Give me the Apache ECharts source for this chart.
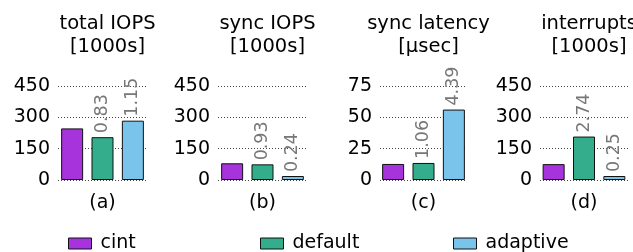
<!DOCTYPE html>
<html>
<head>
<meta charset="utf-8">
<script src="https://cdn.jsdelivr.net/npm/echarts@6/dist/echarts.min.js"></script>
<style>
    html, body { margin: 0; padding: 0; background: #fff; }
    #chart { width: 633px; height: 252px; }
</style>
</head>
<body>
<div id="chart"></div>
<script>
// panel data
const panelTitles = ["total IOPS\n[1000s]", "sync IOPS\n[1000s]", "sync latency\n[µsec]", "interrupts\n[1000s]"];
const panelLabels = ["(a)", "(b)", "(c)", "(d)"];
const yMax = [450, 450, 75, 450];
const yStep = [150, 150, 25, 150];

const seriesNames = ["cint", "default", "adaptive"];
const cintVals = [247, 80, 12.8, 76];
const defaultVals = [205, 75, 13.6, 208];
const adaptiveVals = [284, 19, 56.2, 19];
// ratios vs cint, printed above bars
const defaultRatio = ["0.83", "0.93", "1.06", "2.74"];
const adaptiveRatio = ["1.15", "0.24", "4.39", "0.25"];

const colors = ["#a633dc", "#33ad8c", "#7ac4ec"];
const font = "DejaVu Sans";

// grid geometry (left, width)
const gridPos = [[58, 89], [218, 89], [380, 87], [540, 88]];

let grids = [], xAxes = [], yAxes = [], titles = [], series = [];
const values = [cintVals, defaultVals, adaptiveVals];
const ratios = [null, defaultRatio, adaptiveRatio];

for (let i = 0; i < 4; i++) {
    grids.push({ left: gridPos[i][0], width: gridPos[i][1], top: 86, height: 94 });
    titles.push({
        text: panelTitles[i],
        left: gridPos[i][0] + gridPos[i][1] / 2,
        top: 7,
        textAlign: "center",
        textStyle: { fontFamily: font, fontSize: 19.5, fontWeight: "normal", color: "#000", lineHeight: 23 }
    });
    xAxes.push({
        gridIndex: i,
        type: "category",
        data: [""],
        axisLine: { show: false },
        axisTick: { show: false },
        axisLabel: { show: false },
        name: panelLabels[i],
        nameLocation: "middle",
        nameGap: 14,
        nameTextStyle: { fontFamily: font, fontSize: 19, color: "#000" }
    });
    yAxes.push({
        gridIndex: i,
        type: "value",
        min: 0,
        max: yMax[i],
        interval: yStep[i],
        axisLine: { show: false },
        axisTick: { show: false },
        axisLabel: { fontFamily: font, fontSize: 19, color: "#000", margin: 8 },
        splitLine: { show: true, lineStyle: { type: [1, 2], color: "#444", width: 1 } }
    });
    for (let s = 0; s < 3; s++) {
        let r = ratios[s];
        series.push({
            name: seriesNames[s],
            type: "bar",
            xAxisIndex: i,
            yAxisIndex: i,
            data: [values[s][i]],
            barWidth: 22,
            barGap: "38%",
            itemStyle: { color: colors[s], borderColor: "#111", borderWidth: 1 },
            label: {
                show: r !== null,
                position: "top",
                rotate: 90,
                align: "left",
                verticalAlign: "middle",
                distance: 4,
                fontFamily: font,
                fontSize: 17.5,
                color: "#777",
                formatter: r ? r[i] : ""
            }
        });
    }
}

const legendLeft = [63, 255, 448];
let legends = seriesNames.map((n, k) => ({
    data: [n],
    icon: "rect",
    left: legendLeft[k],
    top: 229,
    itemWidth: 23,
    itemHeight: 11,
    itemGap: 14,
    textStyle: { fontFamily: font, fontSize: 19, color: "#000", padding: [0, 0, 0, 4] },
    itemStyle: { borderColor: "#111", borderWidth: 1 }
}));

const chart = echarts.init(document.getElementById("chart"));
chart.setOption({
    animation: false,
    title: titles,
    legend: legends,
    grid: grids,
    xAxis: xAxes,
    yAxis: yAxes,
    series: series
});
</script>
</body>
</html>
